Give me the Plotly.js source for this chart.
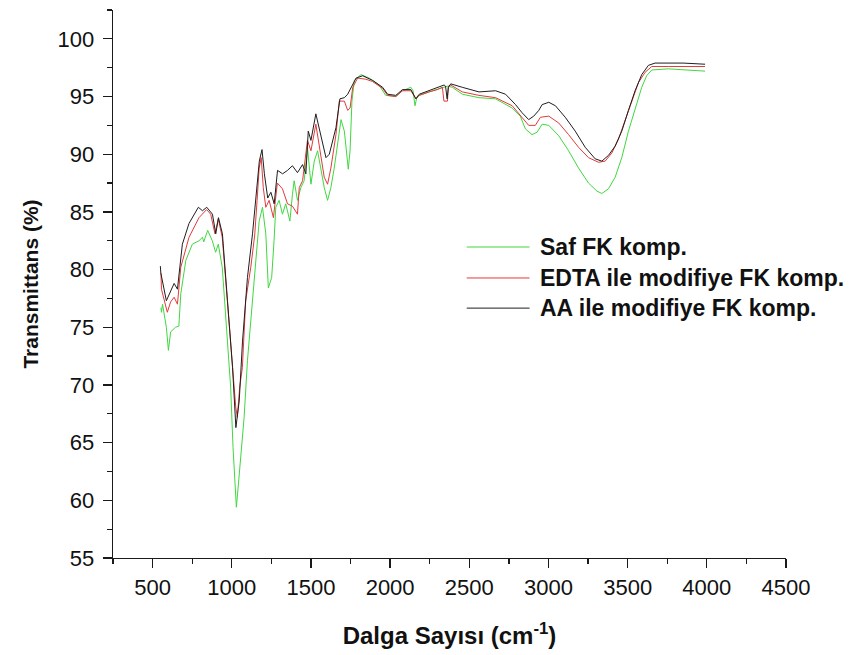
<!DOCTYPE html>
<html>
<head>
<meta charset="utf-8">
<script src="https://cdn.plot.ly/plotly-3.0.1.min.js"></script>
<style>html,body{margin:0;padding:0;background:#fff;}</style>
</head>
<body>
<div id="chart" style="width:864px;height:655px;"></div>
<script>
// ---- Data ----
const seriesNames = ['Saf FK komp.', 'EDTA ile modifiye FK komp.', 'AA ile modifiye FK komp.'];

const safX = [553,556,563,587,600,614,645,666,678,710,751,793,815,823,848,877,898,915,940,972,993,1008,1021,1029,1042,1057,1078,1099,1120,1151,1173,1194,1215,1231,1252,1267,1278,1299,1320,1341,1367,1383,1394,1415,1436,1457,1478,1500,1521,1542,1563,1584,1605,1626,1647,1668,1690,1711,1725,1736,1747,1759,1774,1816,1868,1930,1972,2036,2078,2131,2145,2157,2170,2184,2267,2320,2362,2393,2456,2561,2666,2771,2822,2854,2896,2928,2960,3002,3065,3127,3190,3253,3306,3337,3379,3421,3463,3505,3547,3589,3620,3652,3757,3850,3989];
const safY = [76.7,76.3,77,75,73,74.6,75,75.1,77.9,80.8,82.2,82.5,82.8,82.4,83.4,82.5,81.5,82.2,80.2,74.4,69.8,64.6,61.4,59.4,61.4,64,67.2,72.1,75.6,80.2,84.2,85.4,83.1,78.4,79.3,82.5,85.4,86,84.8,85.7,84.2,86.5,87.7,86,87.1,87.7,90.6,87.4,89.4,90.3,88.8,87.1,86,87.1,88.8,90.9,93,92,90,88.7,90.3,94.6,96.4,96.9,96.6,96.0,95.1,95.0,95.5,95.8,95.5,94.2,95.0,95.1,95.5,95.7,95.9,95.8,95.2,94.9,94.8,94.0,93.3,92.2,91.7,91.9,92.6,92.5,91.6,90.3,88.8,87.5,86.8,86.6,87,88,89.7,92,94,95.8,96.8,97.3,97.4,97.3,97.2];

const edtaX = [553,556,593,614,636,657,678,730,793,841,867,894,915,940,972,1008,1025,1035,1050,1067,1088,1120,1145,1160,1173,1186,1199,1215,1236,1263,1288,1320,1352,1383,1415,1426,1447,1478,1500,1531,1552,1584,1605,1626,1658,1679,1711,1732,1747,1764,1795,1847,1889,1953,1984,2036,2078,2131,2163,2184,2246,2299,2330,2340,2362,2368,2383,2456,2561,2666,2771,2833,2875,2917,2949,3002,3065,3127,3190,3253,3316,3358,3400,3442,3484,3526,3568,3610,3652,3757,3850,3989];
const edtaY = [79.7,78.3,76.3,77.2,77.6,77,80.2,82.8,84.5,85.2,84.8,83.1,84.4,82.8,77.3,70.6,68.1,67.2,69.8,71.5,77.3,80.2,83.0,86.0,88.8,89.7,87.1,85.4,86,84.5,87.5,87,85.7,85.5,84.8,87.1,87.7,91.2,90.3,92.6,90.9,88,87.4,88.8,91.7,94.6,94.6,93.8,94,95.8,96.6,96.5,96.3,95.7,95.1,95.0,95.5,95.5,94.8,95.1,95.4,95.6,95.8,94.6,94.6,95.9,96.0,95.4,95.1,94.9,94.2,93.2,92.5,92.5,93.2,93.3,92.7,91.7,90.6,89.7,89.3,89.4,90.1,91.3,92.9,94.6,96.2,97.1,97.6,97.6,97.6,97.6];

const aaX = [549,552,587,614,636,657,688,730,789,815,842,878,899,916,941,973,1005,1026,1047,1068,1099,1131,1152,1174,1191,1206,1227,1247,1268,1289,1321,1352,1383,1415,1447,1468,1483,1500,1531,1552,1573,1595,1616,1637,1658,1683,1711,1732,1753,1785,1827,1889,1953,1984,2036,2078,2131,2163,2184,2246,2299,2341,2350,2360,2368,2383,2456,2561,2666,2729,2792,2833,2875,2907,2939,2960,3002,3044,3106,3169,3232,3295,3337,3379,3421,3463,3505,3547,3589,3631,3673,3757,3850,3989];
const aaY = [80.3,79.7,77.3,78.2,78.8,78.3,82.2,84,85.4,85.1,85.4,84.8,83.1,84.5,83.1,77.3,71.5,66.3,68.6,73.8,79.3,83.1,86,89.4,90.4,88.3,86.2,86.7,85.7,88.6,88.3,88.6,89,88.4,89.1,88.3,92,91.2,93.5,92.3,90.9,89.7,90,91.2,92.3,94.8,94.9,95.2,95.8,96.6,96.8,96.4,95.8,95.2,95.1,95.6,95.6,94.8,95.2,95.5,95.8,96,95.9,94.8,95.8,96.1,95.8,95.4,95.5,95.2,94.3,93.6,93,93.3,93.8,94.3,94.5,94.2,93.2,92,90.6,89.6,89.4,89.9,90.7,92,93.8,95.5,96.9,97.7,97.9,97.9,97.9,97.8];

const xTickVals = [500,1000,1500,2000,2500,3000,3500,4000,4500];
const yTickVals = [55,60,65,70,75,80,85,90,95,100];

// ---- Styles ----
const colors = ['#3fd83f', '#e23a3a', '#1e1e1e'];
const FONT = 'Liberation Sans, Arial, Helvetica, sans-serif';
const axisColor = '#1a1a1a';

const traces = [
  {x: safX, y: safY, name: seriesNames[0]},
  {x: edtaX, y: edtaY, name: seriesNames[1]},
  {x: aaX, y: aaY, name: seriesNames[2]}
].map((t, i) => Object.assign(t, {
  type: 'scatter', mode: 'lines',
  line: {color: colors[i], width: 1},
  hoverinfo: 'skip', showlegend: false
}));

// manual legend (long sample lines as in the reference)
const legendRowsY = [0.5675, 0.511, 0.456];
const shapes = [], annotations = [];
seriesNames.forEach((n, i) => {
  shapes.push({type: 'line', xref: 'paper', yref: 'paper',
    x0: 0.5256, x1: 0.619, y0: legendRowsY[i], y1: legendRowsY[i],
    line: {color: colors[i], width: 1}});
  annotations.push({xref: 'paper', yref: 'paper', x: 0.632, y: legendRowsY[i],
    xanchor: 'left', yanchor: 'middle', showarrow: false,
    text: '<b>' + n + '</b>', font: {family: FONT, size: 23, color: '#111'}});
});

const layout = {
  width: 864, height: 655,
  margin: {l: 113, r: 77.5, t: 10, b: 97},
  paper_bgcolor: '#fff', plot_bgcolor: '#fff',
  showlegend: false,
  shapes: shapes,
  annotations: annotations,
  xaxis: {
    range: [250, 4500], tickvals: xTickVals, ticktext: xTickVals.map(String),
    ticks: 'outside', ticklen: 9, tickwidth: 1.3, tickcolor: axisColor,
    showline: true, linecolor: axisColor, linewidth: 1.3, mirror: false,
    showgrid: false, zeroline: false,
    minor: {dtick: 250, tick0: 250, ticks: 'outside', ticklen: 5, tickwidth: 1.3, tickcolor: axisColor, showgrid: false},
    tickfont: {family: FONT, size: 22, color: '#111'},
    title: {text: '<b>Dalga Sayısı (cm<sup>-1</sup>)</b>', font: {family: FONT, size: 24, color: '#111'}, standoff: 28}
  },
  yaxis: {
    range: [55, 102.5], tickvals: yTickVals, ticktext: yTickVals.map(String),
    ticks: 'outside', ticklen: 9, tickwidth: 1.3, tickcolor: axisColor,
    showline: true, linecolor: axisColor, linewidth: 1.3, mirror: false,
    showgrid: false, zeroline: false,
    ticklabelstandoff: 4,
    minor: {dtick: 2.5, tick0: 55, ticks: 'outside', ticklen: 5, tickwidth: 1.3, tickcolor: axisColor, showgrid: false},
    tickfont: {family: FONT, size: 22, color: '#111'},
    title: {text: '<b>Transmittans (%)</b>', font: {family: FONT, size: 21, color: '#111'}, standoff: 13}
  }
};

Plotly.newPlot('chart', traces, layout, {staticPlot: true, displayModeBar: false});
</script>
</body>
</html>
